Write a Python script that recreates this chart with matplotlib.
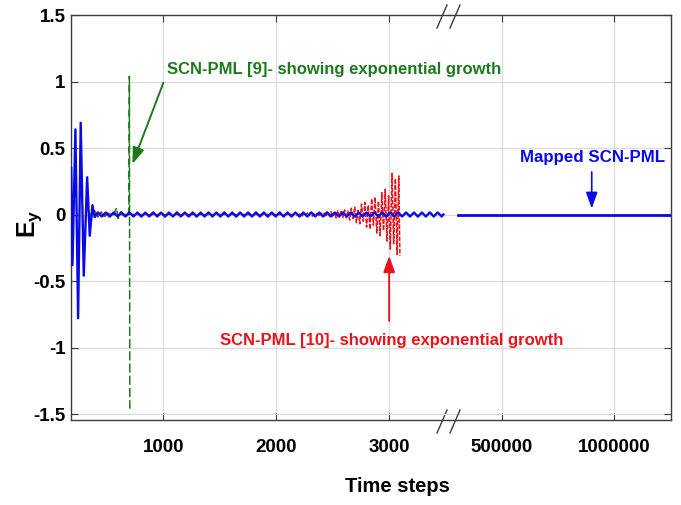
import numpy as np
import matplotlib.pyplot as plt
from matplotlib.lines import Line2D

plt.rcParams['font.family'] = ['Liberation Sans', 'DejaVu Sans']
plt.rcParams['font.weight'] = 'bold'
plt.rcParams['axes.unicode_minus'] = False
plt.rcParams['mathtext.fontset'] = 'custom'
plt.rcParams['mathtext.bf'] = 'Liberation Sans:bold'
plt.rcParams['mathtext.rm'] = 'Liberation Sans:bold'
plt.rcParams['mathtext.it'] = 'Liberation Sans:bold'

# Mapped SCN-PML (blue), first part of the time axis
blue_t = [184, 195, 221, 245, 268, 295, 325, 348, 372, 392,
          420, 455, 490, 525, 560, 595, 630, 665, 700, 735,
          770, 805, 840, 875, 910, 945, 980, 1015, 1050, 1085,
          1120, 1155, 1190, 1225, 1260, 1295, 1330, 1365, 1400, 1435,
          1470, 1505, 1540, 1575, 1610, 1645, 1680, 1715, 1750, 1785,
          1820, 1855, 1890, 1925, 1960, 1995, 2030, 2065, 2100, 2135,
          2170, 2205, 2240, 2275, 2310, 2345, 2380, 2415, 2450, 2485,
          2520, 2555, 2590, 2625, 2660, 2695, 2730, 2765, 2800, 2835,
          2870, 2905, 2940, 2975, 3010, 3045, 3080, 3115, 3150, 3185,
          3220, 3255, 3290, 3325, 3360, 3395, 3430, 3465, 3480]
blue_v = [0.35, -0.38, 0.64, -0.78, 0.69, -0.46, 0.28, -0.16, 0.07, -0.02,
          0.016, -0.015, 0.015, -0.016, 0.015, -0.015, 0.016, -0.015, 0.015, -0.015,
          0.015, -0.016, 0.015, -0.015, 0.016, -0.015, 0.015, -0.016, 0.015, -0.015,
          0.016, -0.015, 0.015, -0.015, 0.015, -0.016, 0.015, -0.015, 0.016, -0.015,
          0.015, -0.015, 0.016, -0.015, 0.015, -0.016, 0.015, -0.015, 0.015, -0.015,
          0.016, -0.015, 0.015, -0.016, 0.015, -0.015, 0.016, -0.015, 0.015, -0.015,
          0.015, -0.016, 0.015, -0.015, 0.016, -0.015, 0.015, -0.015, 0.016, -0.015,
          0.015, -0.015, 0.016, -0.015, 0.015, -0.016, 0.015, -0.015, 0.015, -0.016,
          0.015, -0.015, 0.016, -0.015, 0.015, -0.015, 0.016, -0.015, 0.015, -0.015,
          0.015, -0.016, 0.015, -0.015, 0.016, -0.015, 0.015, -0.015, 0.0]

# Mapped SCN-PML (blue), late time steps
blue_late_t = [304000, 1260000]
blue_late_v = [0.0, 0.0]

# SCN-PML [10] (red, dashed)
red_t = [330, 360, 390, 420, 450, 480, 510, 540, 2200,
         2215, 2230, 2245, 2260, 2275, 2290, 2305, 2320, 2335, 2350,
         2365, 2380, 2395, 2410, 2425, 2440, 2455, 2470, 2485, 2500,
         2515, 2530, 2545, 2560, 2575, 2590, 2605, 2620, 2635, 2650,
         2665, 2680, 2695, 2710, 2725, 2740, 2755, 2770, 2785, 2800,
         2815, 2830, 2845, 2860, 2875, 2890, 2905, 2920, 2935, 2950,
         2965, 2980, 2995, 3010, 3025, 3040, 3055, 3070, 3085, 3095]
red_v = [0.05, -0.03, 0.03, -0.02, 0.02, -0.015, 0.01, 0.0, 0.0,
         0.006, -0.011, 0.009, -0.004, 0.012, -0.008, 0.01, -0.013, 0.007, -0.012,
         0.014, -0.008, 0.016, -0.012, 0.01, -0.018, 0.017, -0.011, 0.021, -0.016,
         0.015, -0.025, 0.027, -0.017, 0.03, -0.024, 0.035, -0.03, 0.026, -0.042,
         0.047, -0.03, 0.055, -0.062, 0.04, -0.07, 0.078, -0.05, 0.09, -0.095,
         0.07, -0.11, 0.118, -0.08, 0.13, -0.14, 0.1, -0.16, 0.165, -0.12,
         0.19, -0.2, 0.14, -0.26, 0.31, -0.22, 0.27, -0.3, 0.29, -0.31]

# SCN-PML [9] (green, dashed)
green_t = [330, 360, 390, 420, 450, 480, 520, 560, 585, 600, 620, 650, 680, 695, 699, 703]
green_v = [0.04, -0.02, 0.02, -0.01, 0.01, -0.01, 0.01, 0.0, 0.05, -0.03, 0.02, -0.01, 0.01, 0.0, 1.04, -1.46]

y_ticks = [-1.5, -1, -0.5, 0, 0.5, 1, 1.5]
y_tick_labels = ['-1.5', '-1', '-0.5', '0', '0.5', '1', '1.5']
x1_ticks = [1000, 2000, 3000]
x2_ticks = [500000, 1000000]

blue = '#0a0ae6'
red = '#e8141c'
green = '#1c7a1c'
spine_c = '#3c3c3c'

W, H = 681, 505
fig = plt.figure(figsize=(W / 100, H / 100), dpi=100)
ax1 = fig.add_axes([71 / W, 85 / H, (449 - 71) / W, (420 - 15) / H])
ax2 = fig.add_axes([449 / W, 85 / H, (671 - 449) / W, (420 - 15) / H])
# left part on top so its texts are not hidden by the right part
ax1.set_zorder(2)
ax1.patch.set_visible(False)
ax2.set_zorder(1)

ax1.plot(red_t, red_v, color=red, lw=1.1, ls=(0, (3, 1)), zorder=2)
ax1.plot(green_t, green_v, color=green, lw=1.1, ls=(0, (6, 2)), zorder=3)
ax1.plot(blue_t, blue_v, color=blue, lw=1.7, zorder=4)
ax2.plot(blue_late_t, blue_late_v, color=blue, lw=2.0, zorder=4)

ax1.set_xlim(182, 3530)
ax2.set_xlim(264400, 1253000)
for ax in (ax1, ax2):
    ax.set_ylim(-1.545, 1.5)
    ax.set_yticks(y_ticks)
    ax.grid(True, color='#dcdcdc', lw=0.9)
    ax.set_axisbelow(True)
    for s in ax.spines.values():
        s.set_color(spine_c)
        s.set_linewidth(1.0)
    ax.tick_params(direction='in', length=5, color=spine_c, labelsize=13.5,
                   top=True, pad=4)
    ax.tick_params(axis='x', pad=14)

ax1.set_xticks(x1_ticks)
ax1.set_xticklabels([str(v) for v in x1_ticks])
ax1.set_yticklabels(y_tick_labels)
ax1.spines['right'].set_visible(False)
ax1.tick_params(axis='y', right=False)

ax2.set_xticks(x2_ticks)
ax2.set_xticklabels([str(v) for v in x2_ticks])
ax2.spines['left'].set_visible(False)
ax2.tick_params(axis='y', left=False, right=True, labelleft=False)

# break marks "//"
for y0, y1 in [(28, 5), (433, 410)]:
    for x0 in (437, 450):
        fig.add_artist(Line2D([x0 / W, (x0 + 10) / W], [1 - y0 / H, 1 - y1 / H],
                              color=spine_c, lw=1.0))

# annotations
ax1.text(1035, 1.088, 'SCN-PML [9]- showing exponential growth', color=green,
         fontsize=12, fontweight='bold', ha='left', va='center', clip_on=False)
ax1.annotate('', xy=(726, 0.38), xytext=(1000, 0.99),
             arrowprops=dict(arrowstyle='-|>,head_length=0.7,head_width=0.25',
                             color=green, lw=1.4, shrinkA=0, shrinkB=0,
                             mutation_scale=14))
ax1.text(1504, -0.945, 'SCN-PML [10]- showing exponential growth', color=red,
         fontsize=12, fontweight='bold', ha='left', va='center', clip_on=False)
ax1.annotate('', xy=(3000, -0.31), xytext=(3000, -0.8),
             arrowprops=dict(arrowstyle='-|>,head_length=0.7,head_width=0.25',
                             color=red, lw=1.4, shrinkA=0, shrinkB=0,
                             mutation_scale=14))
ax2.text(904000, 0.43, 'Mapped SCN-PML', color=blue, fontsize=12.2,
         fontweight='bold', ha='center', va='center', clip_on=False)
ax2.annotate('', xy=(900000, 0.045), xytext=(900000, 0.32),
             arrowprops=dict(arrowstyle='-|>,head_length=0.7,head_width=0.25',
                             color=blue, lw=1.2, shrinkA=0, shrinkB=0,
                             mutation_scale=14))

fig.text(30 / W, 1 - 224 / H, r'$\mathbf{E_y}$', fontsize=18, rotation=90,
         ha='center', va='center')
fig.text(397 / W, 1 - 487 / H, 'Time steps', fontsize=14.5, fontweight='bold',
         ha='center', va='center')

fig.savefig('out.png', dpi=100)
